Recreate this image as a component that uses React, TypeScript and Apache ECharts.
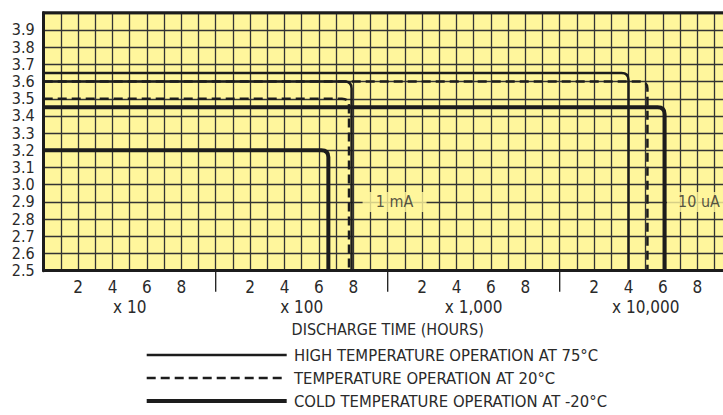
import React, { useEffect, useRef } from "react";
import * as echarts from "echarts";

// ---- data ----
const seriesNames = [
  "HIGH TEMPERATURE OPERATION AT 75°C",
  "TEMPERATURE OPERATION AT 20°C",
  "COLD TEMPERATURE OPERATION AT -20°C",
];
// x unit: 10 units per decade (x10, x100, x1,000, x10,000), linear inside a decade
const levels1mA = [3.6, 3.5, 3.2];
const ends1mA = [17.9, 17.75, 16.55];
const levels10uA = [3.65, 3.6, 3.45];
const ends10uA = [34.0, 35.1, 36.1];
const loadLabels = ["1 mA", "10 uA"];
const loadLabelPos = [
  [20.4, 2.9],
  [38.1, 2.9],
];
const decadeLabels = ["x 10", "x 100", "x 1,000", "x 10,000"];
const decadeTicks = [10, 20, 30];
const yMin = 2.5;
const yMax = 4.0;

const FONT = "'Liberation Sans Narrow', 'DejaVu Sans Condensed', 'Roboto Condensed', 'Liberation Sans', sans-serif";
const YELLOW = "#fff69c";
const INK = "#1c1c1c";
const TEXT = "#2a2a2a";

const lineStyles = [
  { lineWidth: 2.5, lineDash: null as number[] | null },
  { lineWidth: 2.5, lineDash: [9, 5] },
  { lineWidth: 4, lineDash: null as number[] | null },
];

function curveSeries(name: string, level: number, end: number, idx: number) {
  const st = lineStyles[idx];
  return {
    type: "custom",
    name,
    data: [[end, level]],
    clip: false,
    z: idx === 1 ? 3 : 4,
    renderItem: (params: any, api: any) => {
      const e = api.value(0);
      const l = api.value(1);
      const p0 = api.coord([0, l]);
      const pe = api.coord([e, l]);
      const pb = api.coord([e, yMin]);
      const r = 7;
      const d = `M${p0[0]},${p0[1]} L${pe[0] - r},${pe[1]} Q${pe[0]},${pe[1]} ${pe[0]},${pe[1] + r} L${pb[0]},${pb[1]}`;
      return {
        type: "path",
        shape: { pathData: d },
        style: {
          fill: "none",
          stroke: INK,
          lineWidth: st.lineWidth,
          lineDash: st.lineDash || undefined,
        },
      };
    },
  };
}

export default function App() {
  const ref = useRef<HTMLDivElement>(null);
  useEffect(() => {
    if (!ref.current) return;
    const chart = echarts.init(ref.current, null, { renderer: "svg" });

    const curves: any[] = [];
    // draw dashed first so solid sits over it
    [1, 0, 2].forEach((i) => {
      curves.push(curveSeries(seriesNames[i], levels10uA[i], ends10uA[i], i));
      curves.push(curveSeries(seriesNames[i], levels1mA[i], ends1mA[i], i));
    });

    const legendX1 = 146.7;
    const legendX2 = 286.7;
    const legendYs = [355, 378, 401];
    const graphic: any[] = [];
    seriesNames.forEach((n, i) => {
      graphic.push({
        type: "line",
        shape: { x1: legendX1, y1: legendYs[i], x2: legendX2, y2: legendYs[i] },
        style: {
          stroke: INK,
          lineWidth: lineStyles[i].lineWidth,
          lineDash: lineStyles[i].lineDash || undefined,
        },
      });
      graphic.push({
        type: "text",
        x: 294,
        y: legendYs[i],
        style: {
          text: n,
          fill: TEXT,
          fontSize: 16.5,
          fontFamily: FONT,
          verticalAlign: "middle",
          align: "left",
        },
      });
    });

    chart.setOption({
      animation: false,
      backgroundColor: "#ffffff",
      grid: {
        left: 43.7,
        top: 12.8,
        width: 688,
        height: 257.9,
        show: true,
        backgroundColor: YELLOW,
        borderColor: INK,
        borderWidth: 0,
      },
      xAxis: {
        type: "value",
        min: 0,
        max: 40,
        interval: 1,
        name: "DISCHARGE TIME (HOURS)",
        nameLocation: "middle",
        nameGap: 51,
        nameTextStyle: { fontSize: 16, color: TEXT, fontFamily: FONT },
        axisLine: { show: true, lineStyle: { color: INK, width: 3 } },
        axisTick: { show: false },
        splitLine: { show: true, lineStyle: { color: "#333", width: 1.3 } },
        axisLabel: {
          interval: 0,
          showMinLabel: true,
          showMaxLabel: true,
          margin: 6,
          fontSize: 17,
          lineHeight: 20,
          color: TEXT,
          fontFamily: FONT,
          verticalAlign: "top",
          formatter: (v: number) => {
            const n = Math.round(v);
            const u = n % 10;
            const d = Math.floor(n / 10);
            if (n >= 40) return "";
            if (u === 5) return "\n" + decadeLabels[d];
            if (u === 2 || u === 4 || u === 6 || u === 8) return String(u);
            return "";
          },
        },
      },
      yAxis: {
        type: "value",
        min: yMin,
        max: yMax,
        interval: 0.1,
        axisLine: { show: true, lineStyle: { color: INK, width: 3 } },
        axisTick: { show: false },
        splitLine: { show: true, lineStyle: { color: "#333", width: 1.3 } },
        axisLabel: {
          showMinLabel: true,
          showMaxLabel: false,
          margin: 9,
          fontSize: 16,
          lineHeight: 16,
          color: TEXT,
          fontFamily: FONT,
          formatter: (v: number) => v.toFixed(1),
        },
      },
      graphic,
      series: [
        {
          // top border
          type: "custom",
          data: [[0, yMax]],
          clip: false,
          z: 5,
          renderItem: (params: any, api: any) => {
            const p = api.coord([0, yMax]);
            const q = api.coord([40, yMax]);
            return {
              type: "line",
              shape: { x1: p[0] - 1.5, y1: p[1], x2: q[0], y2: q[1] },
              style: { stroke: INK, lineWidth: 3 },
            };
          },
        },
        {
          // decade separator ticks below the axis
          type: "custom",
          data: decadeTicks.map((t) => [t, yMin]),
          clip: false,
          z: 5,
          renderItem: (params: any, api: any) => {
            const p = api.coord([api.value(0), yMin]);
            return {
              type: "line",
              shape: { x1: p[0], y1: p[1], x2: p[0], y2: p[1] + 21 },
              style: { stroke: INK, lineWidth: 1.3 },
            };
          },
        },
        ...curves,
        {
          type: "scatter",
          data: loadLabelPos.map((p, i) => ({ value: p, name: loadLabels[i] })),
          symbol: "rect",
          symbolSize: [64, 20],
          itemStyle: { color: YELLOW },
          z: 2,
          label: {
            show: true,
            position: "inside",
            formatter: (p: any) => p.name,
            fontSize: 16,
            color: TEXT,
            fontFamily: FONT,
          },
        },
      ],
    });
    return () => chart.dispose();
  }, []);
  return (
    <div style={{ position: "absolute", left: 0, top: 0, width: 723, height: 415, overflow: "hidden" }}>
      <div ref={ref} style={{ position: "absolute", left: 0, top: 0, width: 760, height: 415 }} />
    </div>
  );
}
